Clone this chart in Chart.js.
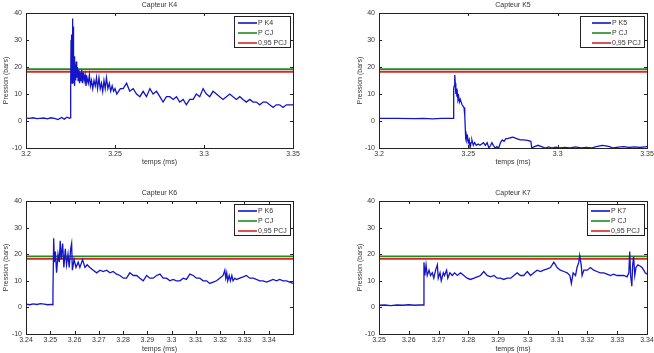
<!DOCTYPE html>
<html>
<head>
<meta charset="utf-8">
<script src="https://cdn.jsdelivr.net/npm/chart.js@4.4.0/dist/chart.umd.min.js"></script>
<style>
  html, body { margin: 0; padding: 0; background: #fff; }
  .pane { position: absolute; }
</style>
</head>
<body>
<div class="pane" style="left:0;top:0;width:327px;height:175px"><canvas id="k4"></canvas></div>
<div class="pane" style="left:327px;top:0;width:327px;height:175px"><canvas id="k5"></canvas></div>
<div class="pane" style="left:0;top:175px;width:327px;height:178px"><canvas id="k6"></canvas></div>
<div class="pane" style="left:327px;top:175px;width:327px;height:178px"><canvas id="k7"></canvas></div>
<script>
'use strict';

var pCJ = 19.2;
var pCJ95 = 18.24;
var yTicks = [-10, 0, 10, 20, 30, 40];
var titles = ['Capteur K4', 'Capteur K5', 'Capteur K6', 'Capteur K7'];
var sensorLabels = ['P K4', 'P K5', 'P K6', 'P K7'];

var xTicksK4 = [3.2, 3.25, 3.3, 3.35];
var xTicksK5 = [3.2, 3.25, 3.3, 3.35];
var xTicksK6 = [3.24, 3.25, 3.26, 3.27, 3.28, 3.29, 3.3, 3.31, 3.32, 3.33, 3.34];
var xTicksK7 = [3.25, 3.26, 3.27, 3.28, 3.29, 3.3, 3.31, 3.32, 3.33, 3.34];

var tK4 = [3.2, 3.202, 3.204, 3.206, 3.208, 3.21, 3.212, 3.214, 3.216, 3.218, 3.22, 3.2215, 3.223, 3.2245, 3.2249,
  3.2251, 3.2253, 3.2255, 3.2257, 3.2259, 3.2261, 3.2263, 3.2265, 3.2267, 3.227, 3.2273, 3.2276, 3.2279, 3.2282,
  3.2285, 3.2289, 3.2293, 3.2297, 3.2301, 3.2305, 3.2309, 3.2313, 3.2317, 3.2322, 3.2327, 3.2332, 3.2337, 3.2343,
  3.235, 3.2356, 3.2362, 3.2368, 3.2375, 3.2382, 3.2389, 3.2396, 3.2402, 3.241, 3.2417, 3.2424, 3.2431, 3.2438,
  3.2445, 3.2452, 3.246, 3.2468, 3.2476, 3.2484, 3.2492, 3.25, 3.251, 3.252, 3.253,
  3.2546, 3.2565, 3.2583, 3.2602, 3.2621, 3.264, 3.2658, 3.2677, 3.2696, 3.2714, 3.2733, 3.2752, 3.277, 3.2789,
  3.2808, 3.2827, 3.2845, 3.2864, 3.2883, 3.2901, 3.292, 3.2939, 3.2957, 3.2976, 3.2995, 3.3004, 3.3014, 3.3032,
  3.3051, 3.307, 3.3088, 3.3107, 3.3126, 3.3145, 3.3163, 3.3182, 3.3201, 3.3219, 3.3238, 3.3257, 3.3276, 3.3294,
  3.3313, 3.3332, 3.335, 3.3369, 3.3388, 3.3406, 3.3425, 3.3444, 3.3463, 3.3481, 3.35];
var pK4 = [1.1, 1.0, 1.2, 0.9, 1.0, 1.1, 0.8, 1.2, 1.0, 0.5, 1.3, 0.7, 1.4, 1.0, 1.2,
  12, 30, 18, 32, 14, 38, 20, 35, 14, 24, 13, 21, 15, 22,
  16, 20, 15, 19, 14, 18, 15, 19, 14, 18, 15, 17, 13, 16,
  14, 17, 13, 15, 12, 15, 13, 16, 12, 16, 12, 14, 11, 15,
  12, 16, 12, 14, 11, 13, 11, 12, 10, 11, 12,
  12, 14, 11, 12, 10, 9, 11, 9, 12, 10, 11, 9, 7, 9,
  9, 8, 9, 7, 8, 6, 8, 8, 10, 9, 12, 11, 10, 9,
  11, 10, 9, 8, 9, 10, 9, 8, 9, 8, 7, 8, 7, 7,
  6, 7, 7, 6, 5, 6, 6, 5, 6, 6, 6];

var tK5 = [3.2, 3.21, 3.22, 3.225, 3.23, 3.235, 3.2412, 3.2416, 3.2418, 3.2421, 3.2424, 3.2427, 3.243, 3.2433,
  3.2436, 3.2439, 3.2442, 3.2446, 3.245, 3.2455, 3.246, 3.2465, 3.247, 3.2476, 3.248, 3.2485, 3.2488, 3.2492,
  3.2496, 3.25, 3.2505, 3.251, 3.2515, 3.252, 3.2528, 3.2535, 3.2545, 3.2555, 3.2565, 3.2575, 3.2585, 3.2595,
  3.2605, 3.2615, 3.2625, 3.2632, 3.264, 3.265, 3.266, 3.267, 3.268, 3.269, 3.27, 3.271, 3.272, 3.2735, 3.275,
  3.277, 3.279, 3.281, 3.283, 3.285, 3.2855, 3.287, 3.289, 3.291, 3.293, 3.295, 3.297, 3.299, 3.301, 3.304,
  3.307, 3.31, 3.313, 3.316, 3.319, 3.321, 3.323, 3.325, 3.327, 3.329, 3.331, 3.334, 3.337, 3.34, 3.343, 3.346, 3.35];
var pK5 = [1.0, 1.0, 0.9, 1.0, 0.8, 1.0, 1.0, 1.0, 12, 13, 17, 14, 10, 12,
  9, 10, 8, 9, 7, 8, 7, 6, 6, 5, 2, -6, -5, -7,
  -6, -8, -7, -10, -8, -7, -9, -8, -9, -8.5, -9, -8.5, -8, -9,
  -8, -10, -9, -8, -9, -10, -9.5, -10, -8, -7, -7.5, -6.5, -6.5, -6.2, -6,
  -6.5, -7, -7, -7.2, -7.5, -10, -9.5, -9, -9.5, -10, -9.6, -10, -9.7, -10, -9.8,
  -10, -9.6, -10, -9.8, -10, -9.6, -9.3, -9, -9.2, -9.5, -10, -9.7, -9.5, -9.8, -9.6, -9.8, -9.5];

var tK6 = [3.24, 3.2415, 3.243, 3.2445, 3.246, 3.2475, 3.249, 3.2505, 3.2509, 3.2511, 3.2514, 3.2517, 3.2521,
  3.2526, 3.2532, 3.2537, 3.2541, 3.2545, 3.2551, 3.2556, 3.2562, 3.2567, 3.2573, 3.2578, 3.2584, 3.2588, 3.2591,
  3.2598, 3.2606, 3.2615, 3.2622, 3.2633, 3.2643, 3.2652, 3.2663, 3.2677, 3.2691, 3.2705, 3.2718, 3.2732, 3.2746,
  3.2759, 3.2773, 3.2787, 3.2801, 3.2814, 3.2828, 3.2842, 3.2856, 3.2869, 3.2883, 3.2897, 3.291, 3.2924, 3.2938,
  3.2952, 3.2965, 3.2979, 3.2993, 3.3006, 3.302, 3.3034, 3.3048, 3.3061, 3.3075, 3.3089, 3.3102, 3.3116, 3.313,
  3.3144, 3.3157, 3.3171, 3.3185, 3.3198, 3.3212, 3.3219, 3.3223, 3.3227, 3.3231, 3.3237, 3.3242, 3.3248, 3.3253,
  3.326, 3.3267, 3.3281, 3.3295, 3.3308, 3.3322, 3.3336, 3.3349, 3.3363, 3.3377, 3.3391, 3.3404, 3.3418, 3.3432,
  3.3445, 3.3459, 3.3473, 3.3487, 3.35];
var pK6 = [1.2, 1.0, 1.3, 1.1, 1.4, 1.2, 1.0, 1.1, 1.0, 5, 26, 17, 21,
  13, 20, 17, 25, 18, 24, 15, 22, 16, 20, 15, 22, 24, 14,
  18, 15, 17, 15, 18, 15, 16, 15, 14, 13, 14, 13.5, 14, 13,
  13.5, 12.5, 12, 11, 11, 13, 12, 12, 11, 10, 12, 11, 11, 12,
  12.5, 11, 11, 10, 10.5, 10, 10, 11, 10.5, 12.5, 12, 11, 11, 10,
  10, 9, 9.5, 10, 11, 12, 14, 11, 13, 10, 12, 10, 12, 10,
  11, 10.5, 11, 11.5, 12, 11, 11, 10.5, 10, 10, 9.5, 10, 10.5, 10,
  10.5, 10, 10, 9.5, 9];

var tK7 = [3.25, 3.252, 3.254, 3.256, 3.258, 3.26, 3.262, 3.2635, 3.2649, 3.2651, 3.2654, 3.2658, 3.2662,
  3.2668, 3.2673, 3.2679, 3.2684, 3.269, 3.2696, 3.2699, 3.2705, 3.2709, 3.2716, 3.272, 3.2727, 3.2731, 3.2738,
  3.2746, 3.2754, 3.2763, 3.2774, 3.2785, 3.2796, 3.2807, 3.2819, 3.283, 3.2841, 3.2852, 3.2863, 3.2875, 3.2886,
  3.2897, 3.2908, 3.2919, 3.293, 3.2942, 3.2953, 3.2964, 3.2975, 3.2986, 3.2998, 3.3009, 3.302, 3.3031, 3.3042,
  3.3053, 3.3065, 3.3076, 3.3087, 3.3093, 3.3098, 3.3109, 3.3121, 3.3132, 3.3141, 3.3146, 3.3152, 3.316, 3.3165,
  3.3171, 3.3174, 3.3179, 3.3182, 3.3188, 3.3199, 3.321, 3.3221, 3.3232, 3.3243, 3.3255, 3.3266, 3.3277, 3.3288,
  3.3299, 3.3311, 3.3322, 3.3333, 3.3339, 3.3342, 3.3345, 3.3349, 3.3352, 3.3355, 3.3359, 3.3363, 3.3369, 3.3378,
  3.3383, 3.3389, 3.3394, 3.34];
var pK7 = [0.8, 0.9, 0.7, 0.9, 0.8, 1.0, 0.8, 0.9, 0.9, 17, 12, 16, 12,
  14, 12, 13, 11, 14, 16, 11, 13, 10, 13, 12, 14, 11, 13,
  12, 13, 12, 13, 12, 11, 10.5, 11, 11.5, 12, 13.5, 12, 11.5, 12,
  11, 11, 10.5, 11, 11, 12, 13, 12, 12, 13.5, 12, 13, 14, 13.5,
  14, 14.5, 15, 17, 16, 15, 14, 13.5, 13, 12, 9, 13, 12, 15,
  17, 19.5, 16, 12, 14, 14, 15, 14, 13.5, 13, 13, 12.5, 12, 12.5,
  12, 12, 12, 11.5, 13, 21, 12, 8, 16, 19, 12, 15, 16, 15.5,
  15, 14, 13, 12.5];

var blue = '#1414c8';
var green = '#1e8c1e';
var red = '#d22828';
var ink = '#333';
var font = {family: '"Liberation Sans", Arial, sans-serif', size: 7};

Chart.defaults.font.family = font.family;
Chart.defaults.font.size = font.size;
Chart.defaults.color = ink;

function pts(t, p) {
  return t.map(function(v, i) { return {x: v, y: p[i]}; });
}

function fmt(v) {
  return String(Math.round(v * 100) / 100);
}

// matlab-like box: frame, inward ticks, title and legend inside the axes
var matlabBox = {
  id: 'matlabBox',
  afterDatasetsDraw: function(chart, args, o) {
    var ctx = chart.ctx;
    var a = chart.chartArea;
    var sx = chart.scales.x;
    var sy = chart.scales.y;
    ctx.save();
    ctx.strokeStyle = '#222';
    ctx.lineWidth = 1;
    ctx.strokeRect(Math.round(a.left) + 0.5, Math.round(a.top) + 0.5,
      Math.round(a.right - a.left), Math.round(a.bottom - a.top));
    ctx.beginPath();
    sx.ticks.forEach(function(t) {
      var px = Math.round(sx.getPixelForValue(t.value)) + 0.5;
      ctx.moveTo(px, a.bottom); ctx.lineTo(px, a.bottom - 3);
      ctx.moveTo(px, a.top); ctx.lineTo(px, a.top + 3);
    });
    sy.ticks.forEach(function(t) {
      var py = Math.round(sy.getPixelForValue(t.value)) + 0.5;
      ctx.moveTo(a.left, py); ctx.lineTo(a.left + 3, py);
      ctx.moveTo(a.right, py); ctx.lineTo(a.right - 3, py);
    });
    ctx.stroke();

    ctx.fillStyle = ink;
    ctx.font = font.size + 'px ' + font.family;
    ctx.textAlign = 'center';
    ctx.textBaseline = 'middle';
    ctx.fillText(o.title, (a.left + a.right) / 2, a.top - 8);

    var lw = o.legW;
    var lx = Math.round(a.right) - 3 - lw;
    var ly = Math.round(a.top) + 3;
    ctx.fillStyle = '#fff';
    ctx.fillRect(lx, ly, lw, 31);
    ctx.strokeStyle = '#222';
    ctx.strokeRect(lx + 0.5, ly + 0.5, lw, 31);
    ctx.textAlign = 'left';
    chart.data.datasets.forEach(function(ds, i) {
      var yy = ly + 7 + i * 10;
      ctx.strokeStyle = ds.borderColor;
      ctx.lineWidth = 1.6;
      ctx.beginPath();
      ctx.moveTo(lx + o.legOff, yy);
      ctx.lineTo(lx + o.legOff + 19, yy);
      ctx.stroke();
      ctx.fillStyle = ink;
      ctx.fillText(ds.label, lx + o.legOff + 20, yy);
    });
    ctx.restore();
  }
};

function subplot(id, t, p, k, xTicks, lay) {
  var xMin = xTicks[0];
  var xMax = lay.xMax;
  var ds = [
    {label: sensorLabels[k], data: pts(t, p), borderColor: blue, borderWidth: 1.3},
    {label: 'P CJ', data: [{x: xMin, y: pCJ}, {x: xMax, y: pCJ}], borderColor: green, borderWidth: 1.8},
    {label: '0,95 PCJ', data: [{x: xMin, y: pCJ95}, {x: xMax, y: pCJ95}], borderColor: red, borderWidth: 1.8}
  ];
  ds.forEach(function(d) {
    d.showLine = true;
    d.pointRadius = 0;
    d.tension = 0;
  });

  return new Chart(document.getElementById(id), {
    type: 'scatter',
    data: {datasets: ds},
    options: {
      animation: false,
      responsive: true,
      maintainAspectRatio: false,
      layout: {padding: {left: lay.left, top: lay.top, right: lay.right, bottom: 0}},
      plugins: {
        legend: {display: false},
        tooltip: {enabled: false},
        matlabBox: {title: titles[k], legW: lay.legW, legOff: lay.legOff}
      },
      scales: {
        x: {
          type: 'linear',
          min: xMin,
          max: xMax,
          grid: {display: false, drawTicks: false},
          border: {display: false},
          ticks: {padding: 2, maxRotation: 0, autoSkip: false, callback: fmt},
          afterBuildTicks: function(s) {
            s.ticks = xTicks.map(function(v) { return {value: v}; });
          },
          afterFit: function(s) {
            s.height = lay.xh;
            s.paddingLeft = 0;
            s.paddingRight = 0;
          },
          title: {display: true, text: 'temps (ms)', padding: {top: 0, bottom: lay.xtp}}
        },
        y: {
          type: 'linear',
          min: -10,
          max: 40,
          grid: {display: false, drawTicks: false},
          border: {display: false},
          ticks: {padding: 4, callback: fmt},
          afterBuildTicks: function(s) {
            s.ticks = yTicks.map(function(v) { return {value: v}; });
          },
          afterFit: function(s) {
            s.width = 26;
            s.paddingTop = 0;
            s.paddingBottom = 0;
          },
          title: {display: true, text: 'Pression (bars)', padding: {top: lay.ytp, bottom: 0}}
        }
      }
    },
    plugins: [matlabBox]
  });
}

subplot('k4', tK4, pK4, 0, xTicksK4, {xMax: 3.35, left: 0, right: 34, top: 13, xh: 27, xtp: 9, ytp: 2, legW: 56, legOff: 4});
subplot('k5', tK5, pK5, 1, xTicksK5, {xMax: 3.35, left: 26, right: 7, top: 13, xh: 27, xtp: 9, ytp: 3, legW: 64, legOff: 12});
subplot('k6', tK6, pK6, 2, xTicksK6, {xMax: 3.35, left: 0, right: 34, top: 26, xh: 19, xtp: 0, ytp: 2, legW: 56, legOff: 4});
subplot('k7', tK7, pK7, 3, xTicksK7, {xMax: 3.34, left: 26, right: 7, top: 26, xh: 19, xtp: 0, ytp: 3, legW: 57, legOff: 4});
</script>
</body>
</html>
